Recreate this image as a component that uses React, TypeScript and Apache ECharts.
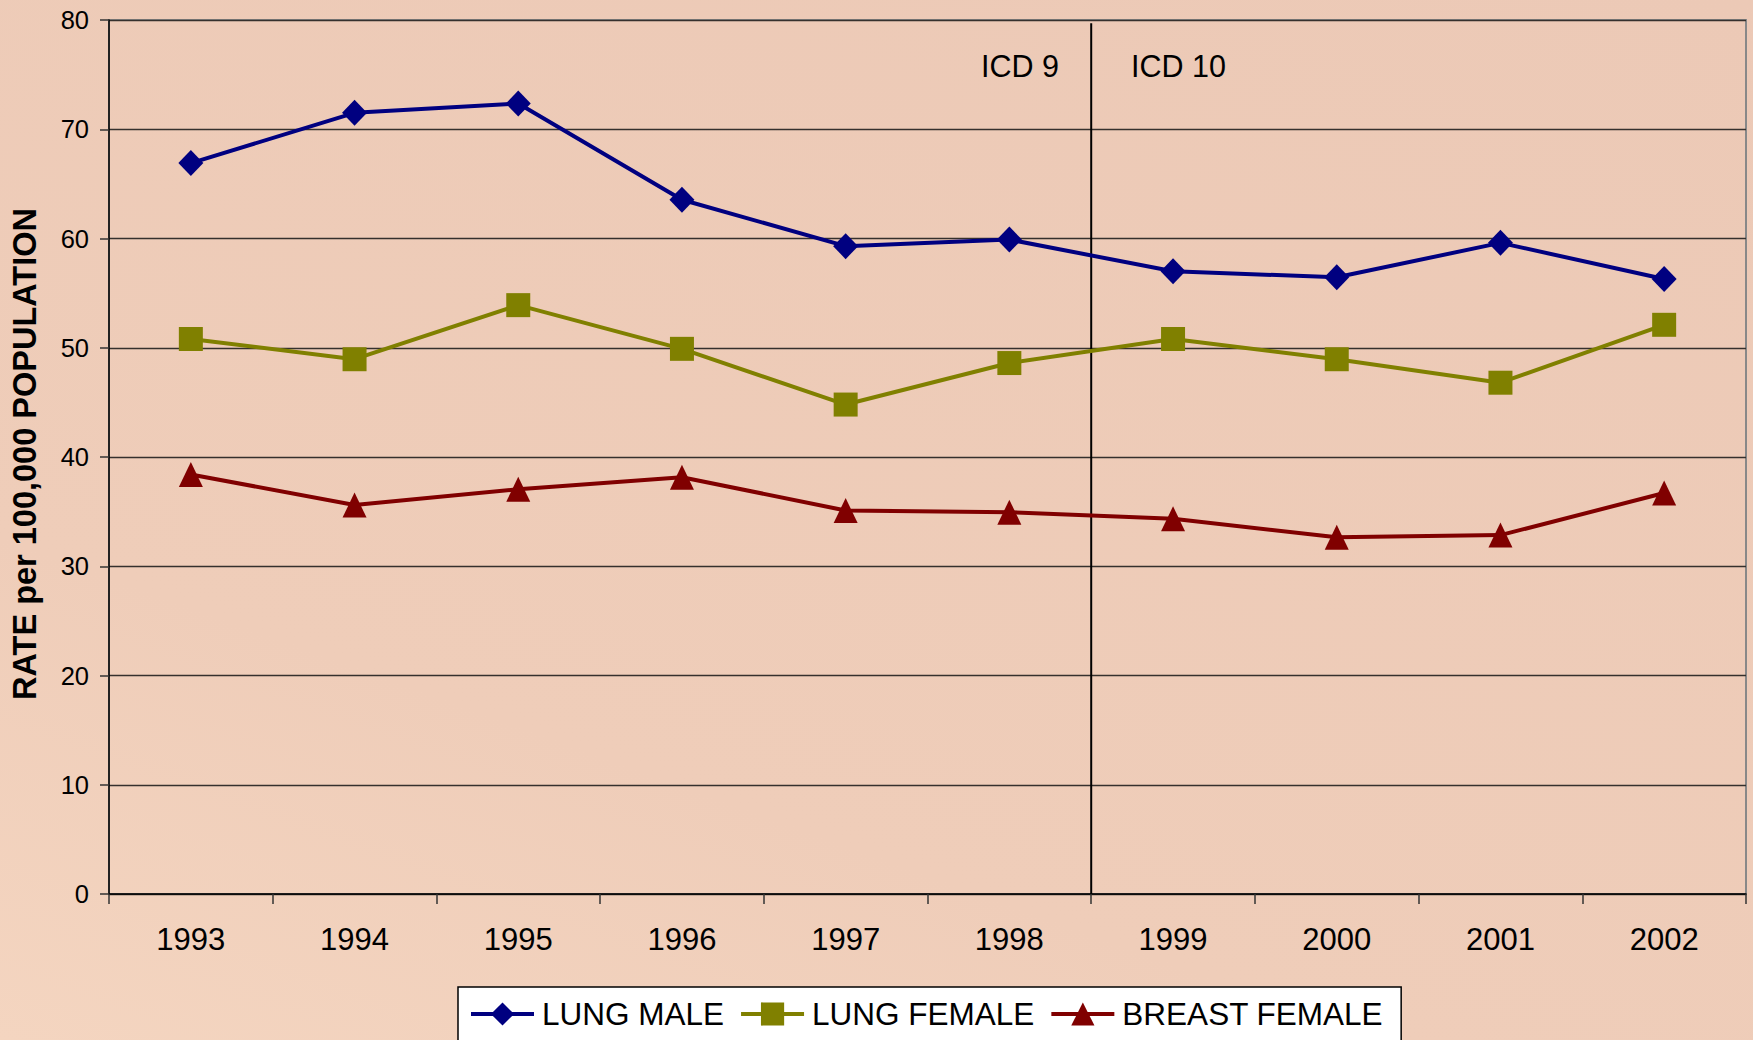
import React, { useEffect, useRef } from "react";
import * as echarts from "echarts";

const years = ["1993", "1994", "1995", "1996", "1997", "1998", "1999", "2000", "2001", "2002"];
const lungMale = [66.9, 71.5, 72.35, 63.55, 59.3, 59.9, 57.0, 56.45, 59.6, 56.3];
const lungFemale = [50.8, 48.95, 53.9, 49.9, 44.8, 48.6, 50.8, 48.95, 46.8, 52.1];
const breastFemale = [38.4, 35.6, 37.05, 38.15, 35.1, 34.95, 34.35, 32.65, 32.85, 36.7];
// ICD 9 / ICD 10 change-over, at the boundary between 1998 and 1999 (category index units)
const icdBreak = [[6, 79.7], [6, 0]];
const seriesNames = ["LUNG MALE", "LUNG FEMALE", "BREAST FEMALE"];

const FONT = "'Liberation Sans', Arial, sans-serif";

export default function App() {
  const ref = useRef<HTMLDivElement>(null);
  useEffect(() => {
    if (!ref.current) return;
    const chart = echarts.init(ref.current, null, { renderer: "svg" });
    const lineSeries = (name: string, data: number[], color: string, symbol: string, size: any) => ({
      name,
      type: "line",
      data,
      symbol,
      symbolSize: size,
      itemStyle: { color },
      lineStyle: { color, width: 4 },
      z: 5,
    });
    chart.setOption({
      animation: false,
      backgroundColor: "transparent",
      textStyle: { fontFamily: FONT },
      grid: {
        left: 109,
        top: 20,
        right: 7,
        bottom: 146,
        show: true,
        borderColor: "#888888",
        borderWidth: 2,
        backgroundColor: "transparent",
      },
      legend: {
        data: seriesNames,
        left: 458,
        top: 987,
        padding: [11, 18, 40, 11],
        backgroundColor: "#ffffff",
        borderColor: "#000000",
        borderWidth: 1.5,
        borderRadius: 0,
        itemWidth: 63,
        itemHeight: 29,
        itemGap: 15,
        lineStyle: { width: 4 },
        textStyle: { fontSize: 31.5, color: "#000", fontFamily: FONT, padding: [0, 0, 0, 3] },
      },
      xAxis: [
        {
          type: "category",
          data: years,
          boundaryGap: true,
          axisLine: { show: true, lineStyle: { color: "#000", width: 1.5 } },
          axisTick: { show: true, length: 10, lineStyle: { color: "#333", width: 1.5 } },
          axisLabel: { fontSize: 31, color: "#000", margin: 30, fontFamily: FONT },
          splitLine: { show: false },
        },
        {
          type: "value",
          min: 0,
          max: 10,
          show: false,
          position: "bottom",
        },
      ],
      yAxis: {
        type: "value",
        min: 0,
        max: 80,
        interval: 10,
        name: "RATE per 100,000 POPULATION",
        nameLocation: "middle",
        nameRotate: 90,
        nameGap: 68,
        nameTextStyle: {
          fontSize: 32.5,
          fontWeight: "bold",
          color: "#000",
          fontFamily: FONT,
          padding: [0, 0, 0, 6],
        },
        axisLine: { show: true, lineStyle: { color: "#000", width: 1.5 } },
        axisTick: { show: true, length: 9, lineStyle: { color: "#333", width: 1.5 } },
        axisLabel: { fontSize: 25.5, color: "#000", margin: 20, fontFamily: FONT },
        splitLine: { show: true, lineStyle: { color: "#35302d", width: 1.4 } },
      },
      series: [
        lineSeries(seriesNames[0], lungMale, "#000080", "diamond", [25, 26]),
        lineSeries(seriesNames[1], lungFemale, "#808000", "rect", 24),
        lineSeries(seriesNames[2], breastFemale, "#800000", "triangle", [24, 25]),
        {
          name: "ICD",
          type: "line",
          xAxisIndex: 1,
          data: icdBreak,
          symbol: "none",
          lineStyle: { color: "#000", width: 2 },
          z: 3,
          silent: true,
        },
      ],
      graphic: [
        {
          type: "text",
          x: 1059,
          y: 66,
          style: {
            text: "ICD 9",
            fontSize: 30.5,
            fontFamily: FONT,
            fill: "#000",
            align: "right",
            verticalAlign: "middle",
          },
        },
        {
          type: "text",
          x: 1131,
          y: 66,
          style: {
            text: "ICD 10",
            fontSize: 30.5,
            fontFamily: FONT,
            fill: "#000",
            align: "left",
            verticalAlign: "middle",
          },
        },
      ],
    });
    return () => chart.dispose();
  }, []);
  return (
    <div
      style={{
        position: "absolute",
        left: 0,
        top: 0,
        width: 1753,
        height: 1040,
        overflow: "hidden",
        background: "linear-gradient(20deg, #f4d5c0 0%, #efcdb9 30%, #ecc9b6 100%)",
      }}
    >
      <div ref={ref} style={{ width: 1753, height: 1040 }} />
    </div>
  );
}
